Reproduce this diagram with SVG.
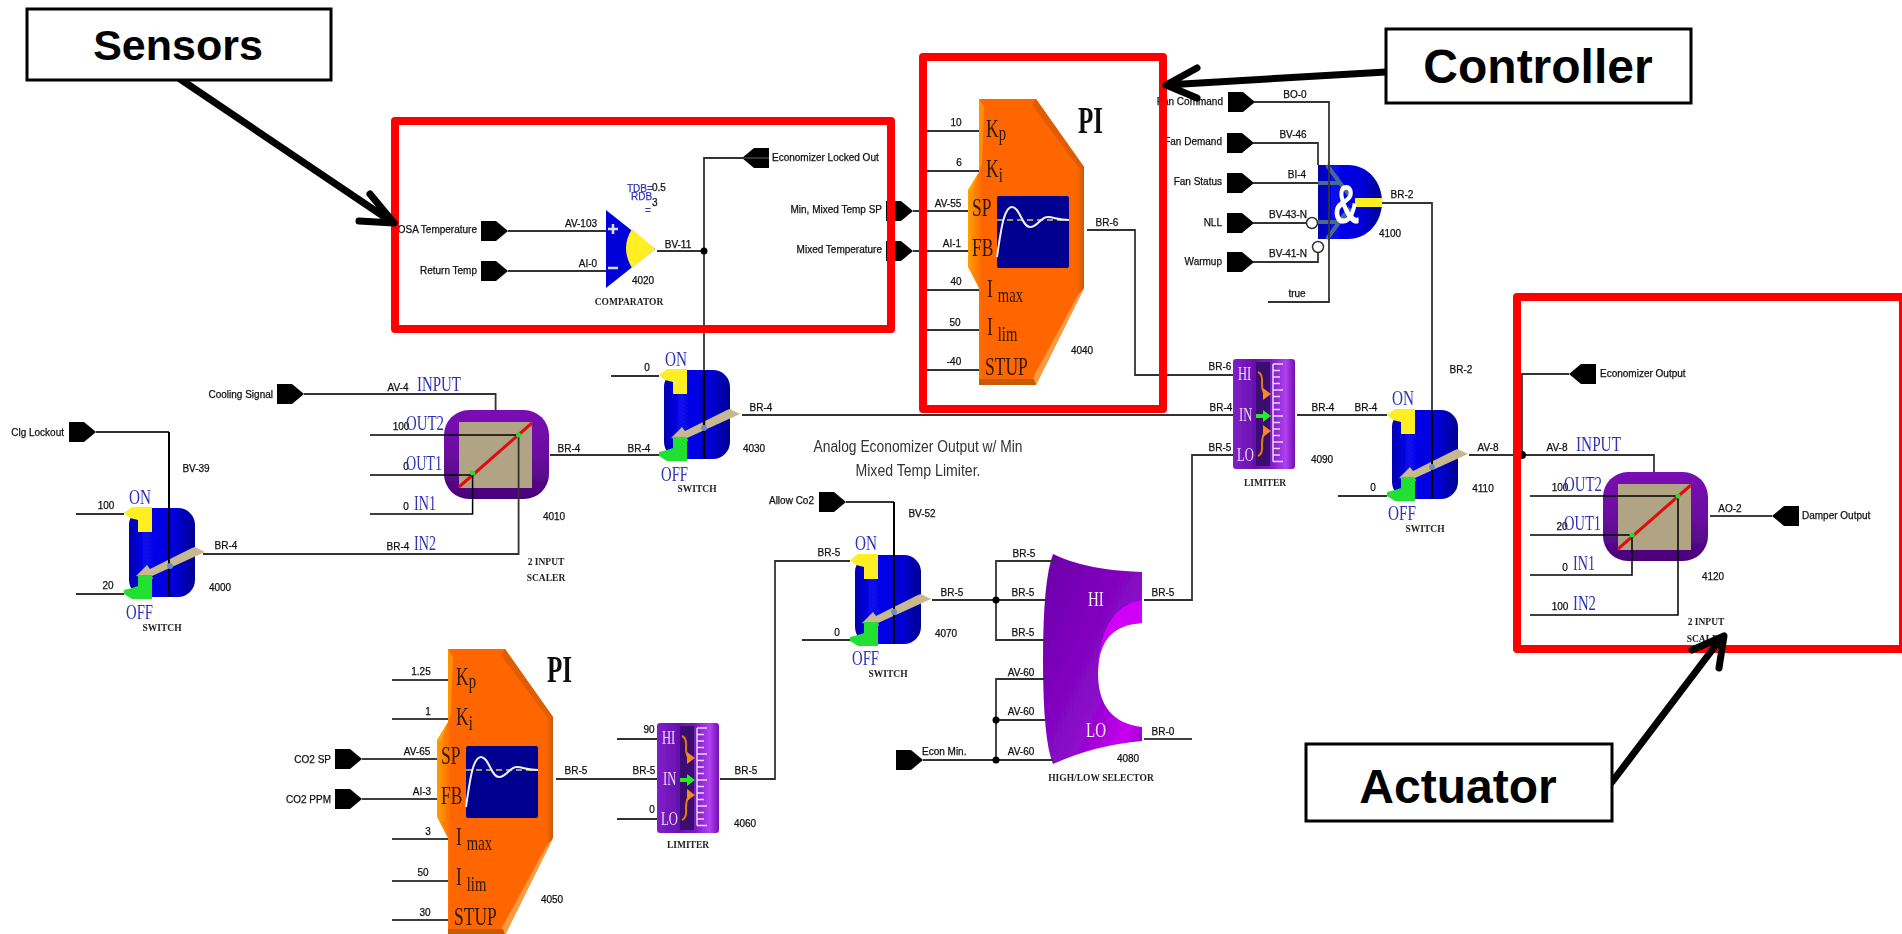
<svg xmlns="http://www.w3.org/2000/svg" xmlns:xlink="http://www.w3.org/1999/xlink" width="1902" height="934" viewBox="0 0 1902 934">
<style>
text{font-family:"Liberation Sans",Arial,sans-serif}
.t{font-size:10px;fill:#111;stroke:#111;stroke-width:.25;text-anchor:middle}
.e{font-size:10px;fill:#111;stroke:#111;stroke-width:.25;text-anchor:end}
.s{font-size:10px;fill:#111;stroke:#111;stroke-width:.25;text-anchor:start}
.c{font-family:"Liberation Serif","Times New Roman",serif;font-size:9.5px;font-weight:bold;fill:#222;text-anchor:middle}
.b{font-family:"Liberation Serif","Times New Roman",serif;font-size:22px;fill:#3030b8}
.p{font-family:"Liberation Serif","Times New Roman",serif;font-size:25px;fill:#2a1a00}
.sub{font-size:21px}
.h{font-family:"Liberation Serif","Times New Roman",serif;font-size:38px;font-weight:bold;fill:#111}
.w{font-family:"Liberation Serif","Times New Roman",serif;font-size:18px;fill:#e8dcf4}
.call{font-size:48px;font-weight:bold;fill:#000;text-anchor:middle}
.wire{fill:none;stroke:#333;stroke-width:1.8}
.blk{fill:none;stroke:#000;stroke-width:2.4}
.frame{fill:none;stroke:#f00;stroke-width:8;stroke-linejoin:round}
.box{fill:#fff;stroke:#000;stroke-width:3}
.arr{fill:none;stroke:#000;stroke-width:7;stroke-linecap:round;stroke-linejoin:round}
.dot{fill:#000}
.inv{fill:#fff;stroke:#333;stroke-width:1.5}
g[id^="node"],#connectors,#caption{filter:url(#soft)}
</style>
<defs>
<filter id="soft" x="-5%" y="-5%" width="110%" height="110%"><feGaussianBlur stdDeviation=".45"/></filter>
<linearGradient id="gb" x1="0" x2="1" y1="0" y2="0"><stop offset="0" stop-color="#0000b0"/><stop offset=".25" stop-color="#0808ee"/><stop offset=".7" stop-color="#0000d8"/><stop offset="1" stop-color="#000090"/></linearGradient>
<linearGradient id="gp" x1="0" x2="0" y1="0" y2="1"><stop offset="0" stop-color="#7a0cb4"/><stop offset=".5" stop-color="#6a10a0"/><stop offset="1" stop-color="#480078"/></linearGradient>
<linearGradient id="go" x1="0" x2="1" y1="0" y2="0"><stop offset="0" stop-color="#ffa000"/><stop offset=".12" stop-color="#ff6600"/><stop offset=".94" stop-color="#ff6600"/><stop offset="1" stop-color="#c85a00"/></linearGradient>
<linearGradient id="gl" x1="0" x2="1" y1="0" y2="0"><stop offset="0" stop-color="#8020c8"/><stop offset=".35" stop-color="#6810b0"/><stop offset=".6" stop-color="#7a18c0"/><stop offset=".85" stop-color="#b040f0"/><stop offset="1" stop-color="#7010b0"/></linearGradient>
<linearGradient id="gs" x1="0" x2="1" y1="0" y2="1"><stop offset="0" stop-color="#6a00a8"/><stop offset=".6" stop-color="#8a08c8"/><stop offset=".85" stop-color="#c800f0"/><stop offset="1" stop-color="#8000c0"/></linearGradient>
<polygon id="tagR" points="0,-10 15,-10 27,0 15,10 0,10" fill="#000"/>
<polygon id="tagL" points="0,0 12,-10 27,-10 27,10 12,10" fill="#000"/>
<g id="sw">
<rect x="0" y="0" width="66" height="89" rx="17" fill="url(#gb)"/>
<polygon points="-5,5 3,-1 23,-1 23,24 9,24 9,12 1,10" fill="#ffee22"/>
<polygon points="76,44 66,39 63,40 21,61 18,57 7,68 24,71 23,68 65,49" fill="#c8b890"/>
<polygon points="9,67 23,67 23,91 3,91 -5,86 -5,82 3,80 9,78" fill="#22e030"/>
</g>
<g id="sc">
<rect x="0" y="0" width="105" height="89" rx="25" fill="url(#gp)"/>
<rect x="15" y="12" width="73" height="66" fill="#b0a484"/>
<line x1="15" y1="77" x2="88" y2="13" stroke="#dd1010" stroke-width="3"/>
</g>
<g id="lim">
<rect x="0" y="0" width="62" height="110" rx="3" fill="url(#gl)"/>
<rect x="23" y="3" width="14" height="104" fill="#3a0a70"/>
<path d="M40 5V102.5M40 5h10M40 11.5h7M40 18h7M40 24.500h7M40 31h10M40 37.500h7M40 44h7M40 50.500h7M40 57h10M40 63.500h7M40 70h7M40 76.500h7M40 83h10M40 89.500h7M40 96h7M40 102.500h10" fill="none" stroke="#e8d8f4" stroke-width="1.500"/>
<path d="M25 13Q30 15 29 25Q29 34 33 35M25 97Q30 95 29 85Q29 76 33 72" fill="none" stroke="#e87a10" stroke-width="2"/>
<polygon points="30,29 38,35 30,41" fill="#f08a20"/>
<polygon points="30,66 38,72 30,78" fill="#f08a20"/>
<polygon points="23,55 30,55 30,51 38,57 30,63 30,59 23,59" fill="#22ee22"/>
</g>
<g id="pi">
<polygon points="11,0 68,0 116,68 116,189 68,286 11,286 11,189 0,168 0,91 11,73" fill="url(#go)"/>
<polygon points="11,0 16,8 14,65 4,92 0,91 11,73" fill="#ffb000" opacity=".55"/>
<polygon points="68,0 116,68 110,68 64,6" fill="#e05c00"/>
<polygon points="116,189 68,286 62,284 110,196" fill="#ff9a40"/>
<polygon points="11,280 66,280 68,286 11,286" fill="#c85a00"/>
<rect x="29" y="97" width="72" height="72" rx="2" fill="#000090"/>
<line x1="29" y1="121" x2="101" y2="121" stroke="#d8c850" stroke-width="1.500" stroke-dasharray="6 4"/>
<path d="M29 158C33 130 36 108 44 108C52 108 54 128 62 128C70 128 72 118 80 118C86 118 90 121 101 121" fill="none" stroke="#f0f0f8" stroke-width="2"/>
</g>
</defs>
<rect width="1902" height="934" fill="#fff"/>

<g id="node-4000"><use href="#sw" x="129" y="508"/>
<text class="b" x="129" y="504" textLength="22" lengthAdjust="spacingAndGlyphs">ON</text>
<text class="b" x="126" y="619" textLength="27" lengthAdjust="spacingAndGlyphs">OFF</text>
<text class="t" x="220" y="591">4000</text><text class="c" x="162" y="631">SWITCH</text></g>
<g id="node-clg-lockout"><use href="#tagR" x="69" y="432"/><text class="e" x="64" y="436">Clg Lockout</text></g>
<g id="node-cooling-signal"><use href="#tagR" x="277" y="394"/><text class="e" x="273" y="398">Cooling Signal</text></g>
<g id="node-4010"><use href="#sc" x="444" y="410"/>
<text class="b" x="417" y="391" textLength="44" lengthAdjust="spacingAndGlyphs">INPUT</text>
<text class="t" x="401" y="430">100</text><text class="b" x="406" y="430" textLength="38" lengthAdjust="spacingAndGlyphs">OUT2</text>
<text class="t" x="406" y="470">0</text><text class="b" x="406" y="470" textLength="36" lengthAdjust="spacingAndGlyphs">OUT1</text>
<text class="t" x="406" y="510">0</text><text class="b" x="414" y="510" textLength="22" lengthAdjust="spacingAndGlyphs">IN1</text>
<text class="b" x="414" y="550" textLength="22" lengthAdjust="spacingAndGlyphs">IN2</text>
<text class="t" x="554" y="520">4010</text><text class="c" x="546" y="565">2 INPUT</text><text class="c" x="546" y="581">SCALER</text></g>
<g id="node-4030"><use href="#sw" x="664" y="370"/>
<text class="b" x="665" y="366" textLength="22" lengthAdjust="spacingAndGlyphs">ON</text>
<text class="b" x="661" y="481" textLength="27" lengthAdjust="spacingAndGlyphs">OFF</text>
<text class="t" x="754" y="452">4030</text><text class="c" x="697" y="492">SWITCH</text></g>
<g id="node-4020">
<polygon points="606,210 655,249 606,288" fill="#0000d8"/>
<path d="M632,229L655,249L632,268Q620,248 632,229Z" fill="#ffee22"/>
<path d="M608,229h10M613,224v10" stroke="#d8e0f0" stroke-width="2.500" fill="none"/><path d="M608,268h10" stroke="#d8e0f0" stroke-width="2.500" fill="none"/>
<text class="s" x="627" y="192" style="fill:#3636b8;stroke:#3636b8">TDB=</text><text class="s" x="652" y="191">0.5</text>
<text class="s" x="631" y="200" style="fill:#3636b8;stroke:#3636b8">RDB</text><text class="s" x="652" y="206">3</text>
<text class="s" x="645" y="214" style="fill:#3636b8;stroke:#3636b8">=</text>
<text class="t" x="643" y="284">4020</text><text class="c" x="629" y="305">COMPARATOR</text></g>
<g id="node-osa"><use href="#tagR" x="481" y="231"/><text class="e" x="477" y="233">OSA Temperature</text></g>
<g id="node-return"><use href="#tagR" x="481" y="271"/><text class="e" x="477" y="274">Return Temp</text></g>
<g id="node-locked"><use href="#tagL" x="742" y="158"/><text class="s" x="772" y="161">Economizer Locked Out</text></g>
<g id="node-minsp"><use href="#tagR" x="886" y="211"/><text class="e" x="882" y="213">Min, Mixed Temp SP</text></g>
<g id="node-mixed"><use href="#tagR" x="886" y="251"/><text class="e" x="882" y="253">Mixed Temperature</text></g>
<g id="node-4040" transform="translate(968,99)"><use href="#pi"/>
<text class="p" transform="translate(18,38) scale(.7,1)">K<tspan class="sub" dy="3">p</tspan></text>
<text class="p" transform="translate(18,78) scale(.7,1)">K<tspan class="sub" dy="5">i</tspan></text>
<text class="p" transform="translate(4,117) scale(.7,1)">SP</text>
<text class="p" transform="translate(4,157) scale(.7,1)">FB</text>
<text class="p" transform="translate(19,198) scale(.7,1)">I<tspan class="sub" dx="7" dy="5">max</tspan></text>
<text class="p" transform="translate(19,236) scale(.7,1)">I<tspan class="sub" dx="7" dy="6">lim</tspan></text>
<text class="p" transform="translate(17,276) scale(.7,1)">STUP</text>
<text class="h" transform="translate(110,34) scale(.66,1)">PI</text>
<text class="t" x="114" y="255">4040</text></g>
<g id="node-4050" transform="translate(437,649)"><use href="#pi"/>
<text class="p" transform="translate(19,36) scale(.7,1)">K<tspan class="sub" dy="3">p</tspan></text>
<text class="p" transform="translate(19,76) scale(.7,1)">K<tspan class="sub" dy="5">i</tspan></text>
<text class="p" transform="translate(4,115) scale(.7,1)">SP</text>
<text class="p" transform="translate(4,155) scale(.7,1)">FB</text>
<text class="p" transform="translate(19,196) scale(.7,1)">I<tspan class="sub" dx="7" dy="5">max</tspan></text>
<text class="p" transform="translate(19,236) scale(.7,1)">I<tspan class="sub" dx="7" dy="6">lim</tspan></text>
<text class="p" transform="translate(17,276) scale(.7,1)">STUP</text>
<text class="h" transform="translate(110,33) scale(.66,1)">PI</text>
<text class="t" x="115" y="254">4050</text></g>
<g id="node-co2sp"><use href="#tagR" x="335" y="759"/><text class="e" x="331" y="763">CO2 SP</text></g>
<g id="node-co2ppm"><use href="#tagR" x="335" y="799"/><text class="e" x="331" y="803">CO2 PPM</text></g>
<g id="node-4060"><use href="#lim" x="657" y="723"/>
<text class="w" transform="translate(662,744) scale(.7,1)">HI</text><text class="w" transform="translate(663,785) scale(.7,1)">IN</text><text class="w" transform="translate(661,825) scale(.7,1)">LO</text>
<text class="t" x="745" y="827">4060</text><text class="c" x="688" y="848">LIMITER</text></g>
<g id="node-4090"><use href="#lim" x="1233" y="359"/>
<text class="w" transform="translate(1238,380) scale(.7,1)">HI</text><text class="w" transform="translate(1239,421) scale(.7,1)">IN</text><text class="w" transform="translate(1237,461) scale(.7,1)">LO</text>
<text class="t" x="1322" y="463">4090</text><text class="c" x="1265" y="486">LIMITER</text></g>
<g id="node-4070"><use href="#sw" x="855" y="555"/>
<text class="b" x="855" y="550" textLength="22" lengthAdjust="spacingAndGlyphs">ON</text>
<text class="b" x="852" y="665" textLength="27" lengthAdjust="spacingAndGlyphs">OFF</text>
<text class="t" x="946" y="637">4070</text><text class="c" x="888" y="677">SWITCH</text></g>
<g id="node-allow"><use href="#tagR" x="819" y="502"/><text class="e" x="814" y="504">Allow Co2</text></g>
<g id="node-4080"><path d="M1053 554Q1085 570 1142 572L1142 623Q1098 625 1098 673Q1098 722 1142 727L1142 741Q1095 745 1053 764Q1043 740 1043 660Q1043 580 1053 554Z" fill="url(#gs)"/>
<path d="M1142 600Q1105 605 1098 660L1098 673Q1098 625 1142 623Z" fill="#d000f8"/>
<text class="w" style="font-size:20px;fill:#f4ecf8" transform="translate(1088,606) scale(.75,1)">HI</text><text class="w" style="font-size:20px;fill:#f4ecf8" transform="translate(1086,737) scale(.75,1)">LO</text>
<text class="t" x="1128" y="762">4080</text><text class="c" x="1101" y="781">HIGH/LOW SELECTOR</text></g>
<g id="node-econ-min"><use href="#tagR" x="896" y="760"/><text class="s" x="922" y="755">Econ Min.</text></g>
<g id="node-4100">
<path d="M1318 165H1348C1368 165 1382 182 1382 202C1382 222 1368 239 1348 239H1318Z" fill="url(#gb)"/>
<rect x="1355" y="198" width="27" height="9" fill="#ffee22"/>
<path d="M1318 183H1340L1350 196M1327 165L1345 190M1318 222H1340L1350 208M1327 239L1345 214" fill="none" stroke="#4a6a90" stroke-width="4"/>
<text transform="translate(1333,223) scale(.66,1)" style="font-size:56px;font-weight:bold;fill:#fff">&amp;</text>
<text class="t" x="1390" y="237">4100</text></g>
<g id="node-fan-command"><use href="#tagR" x="1228" y="102"/><text class="e" x="1223" y="105">Fan Command</text></g>
<g id="node-fan-demand"><use href="#tagR" x="1227" y="143"/><text class="e" x="1222" y="145">Fan Demand</text></g>
<g id="node-fan-status"><use href="#tagR" x="1227" y="183"/><text class="e" x="1222" y="185">Fan Status</text></g>
<g id="node-nll"><use href="#tagR" x="1227" y="223"/><text class="e" x="1222" y="226">NLL</text></g>
<g id="node-warmup"><use href="#tagR" x="1227" y="262"/><text class="e" x="1222" y="265">Warmup</text></g>
<g id="node-4110"><use href="#sw" x="1392" y="410"/>
<text class="b" x="1392" y="405" textLength="22" lengthAdjust="spacingAndGlyphs">ON</text>
<text class="b" x="1388" y="520" textLength="28" lengthAdjust="spacingAndGlyphs">OFF</text>
<text class="t" x="1483" y="492">4110</text><text class="c" x="1425" y="532">SWITCH</text></g>
<g id="node-econ-out"><use href="#tagL" x="1569" y="374"/><text class="s" x="1600" y="377">Economizer Output</text></g>
<g id="node-4120"><use href="#sc" x="1603" y="472"/>
<text class="b" x="1576" y="451" textLength="45" lengthAdjust="spacingAndGlyphs">INPUT</text>
<text class="t" x="1560" y="491">100</text><text class="b" x="1564" y="491" textLength="38" lengthAdjust="spacingAndGlyphs">OUT2</text>
<text class="t" x="1562" y="530">20</text><text class="b" x="1564" y="530" textLength="37" lengthAdjust="spacingAndGlyphs">OUT1</text>
<text class="t" x="1565" y="571">0</text><text class="b" x="1573" y="570" textLength="22" lengthAdjust="spacingAndGlyphs">IN1</text>
<text class="t" x="1560" y="610">100</text><text class="b" x="1573" y="610" textLength="23" lengthAdjust="spacingAndGlyphs">IN2</text>
<text class="t" x="1713" y="580">4120</text><text class="c" x="1706" y="625">2 INPUT</text><text class="c" x="1706" y="642">SCALER</text></g>
<g id="node-damper"><use href="#tagL" x="1772" y="516"/><text class="s" x="1802" y="519">Damper Output</text></g>

<g id="connectors">
<path class="wire" d="M96 432H169"/><path class="blk" d="M169 432V597" style="stroke-width:2"/>
<path class="wire" d="M76 514H124M76 594H124M203 554H518.600V435"/>
<path class="wire" d="M304 394H495.600V410"/>
<path class="blk" style="stroke-width:1.500" d="M370 435H518.600M370 475H472.600V514H370"/>
<path class="wire" d="M550 455H659"/>
<circle cx="518.600" cy="435" r="2.500" fill="#22e030"/><circle cx="472.600" cy="473" r="2.500" fill="#22e030"/>
<circle cx="170" cy="566" r="3" fill="#6a8fc0"/>
<path class="wire" d="M508 231H606M508 271H606"/>
<path class="wire" d="M657 251H704M769 158H704V370M742 158H704"/>
<circle class="dot" cx="704" cy="251" r="3.500"/>
<path class="blk" d="M704 370V459"/>
<circle cx="704" cy="428" r="3" fill="#6a8fc0"/>
<path class="wire" d="M611 376H659M742 415H1233"/>
<path class="wire" d="M927 131H979M927 171H979M913 211H968M913 251H968M927 290H979M927 330H979M927 370H979"/>
<path class="wire" d="M1087 230H1135V375H1233"/>
<path class="wire" d="M1254 102H1329V302H1268M1253 143H1318V165M1253 183H1318M1253 223H1306M1253 262H1318V253"/>
<circle class="inv" cx="1312" cy="223" r="5.500"/><circle class="inv" cx="1318" cy="247" r="5.500"/>
<path class="wire" d="M1382 203H1432V410"/><path class="blk" d="M1432 410V499" style="stroke-width:2"/>
<path class="wire" d="M1297 415H1387M1338 496H1387M1469 455H1522"/>
<circle cx="1432" cy="467" r="3" fill="#6a8fc0"/>
<path class="wire" d="M1569 374H1522V455H1654V472"/>
<circle class="dot" cx="1522" cy="455" r="4"/>
<path class="blk" style="stroke-width:1.500" d="M1530 496H1678V615H1530M1530 535H1632V575H1530M1710 516H1772"/>
<circle cx="1678" cy="496" r="2.500" fill="#22e030"/><circle cx="1632" cy="535" r="2.500" fill="#22e030"/>
<path class="blk" style="stroke-width:1.500" d="M392 680H448M392 719H448M362 759H437M362 799H437M392 839H448M392 881H448M392 920H448"/>
<path class="wire" d="M556 779H657M617 739H657M617 819H657M720 779H775V561H850"/>
<path class="wire" d="M846 502H894"/><path class="blk" d="M894 502V644" style="stroke-width:2"/>
<circle cx="894" cy="612" r="3" fill="#6a8fc0"/>
<path class="wire" d="M802 640H850M932 600H1045M1055 561H996V640H1045M1045 679H996V760M996 720H1045M923 760H1053"/>
<circle class="dot" cx="996" cy="600" r="3.500"/><circle class="dot" cx="996" cy="720" r="3.500"/><circle class="dot" cx="996" cy="760" r="3.500"/>
<path class="wire" d="M1144 600H1192V455H1233"/><path class="blk" style="stroke-width:1.500" d="M1144 739H1192"/>
<text class="t" x="106" y="509">100</text><text class="t" x="108" y="589">20</text><text class="t" x="196" y="472">BV-39</text><text class="t" x="226" y="549">BR-4</text><text class="t" x="398" y="550">BR-4</text>
<text class="t" x="398" y="391">AV-4</text><text class="t" x="569" y="452">BR-4</text><text class="t" x="639" y="452">BR-4</text>
<text class="t" x="581" y="227">AV-103</text><text class="t" x="588" y="267">AI-0</text><text class="t" x="678" y="248">BV-11</text>
<text class="t" x="647" y="371">0</text><text class="t" x="761" y="411">BR-4</text><text class="t" x="1221" y="411">BR-4</text>
<text class="t" x="956" y="126">10</text><text class="t" x="959" y="166">6</text><text class="t" x="948" y="207">AV-55</text><text class="t" x="952" y="247">AI-1</text><text class="t" x="956" y="285">40</text><text class="t" x="955" y="326">50</text><text class="t" x="954" y="365">-40</text>
<text class="t" x="1107" y="226">BR-6</text><text class="t" x="1220" y="370">BR-6</text><text class="t" x="1220" y="451">BR-5</text>
<text class="t" x="1295" y="98">BO-0</text><text class="t" x="1293" y="138">BV-46</text><text class="t" x="1297" y="178">BI-4</text><text class="t" x="1288" y="218">BV-43-N</text><text class="t" x="1288" y="257">BV-41-N</text><text class="t" x="1297" y="297">true</text>
<text class="t" x="1402" y="198">BR-2</text><text class="t" x="1461" y="373">BR-2</text>
<text class="t" x="1323" y="411">BR-4</text><text class="t" x="1366" y="411">BR-4</text><text class="t" x="1373" y="491">0</text><text class="t" x="1488" y="451">AV-8</text><text class="t" x="1557" y="451">AV-8</text><text class="t" x="1730" y="512">AO-2</text>
<text class="t" x="421" y="675">1.25</text><text class="t" x="428" y="715">1</text><text class="t" x="417" y="755">AV-65</text><text class="t" x="422" y="795">AI-3</text><text class="t" x="428" y="835">3</text><text class="t" x="423" y="876">50</text><text class="t" x="425" y="916">30</text>
<text class="t" x="576" y="774">BR-5</text><text class="t" x="644" y="774">BR-5</text><text class="t" x="649" y="733">90</text><text class="t" x="652" y="813">0</text><text class="t" x="746" y="774">BR-5</text>
<text class="t" x="922" y="517">BV-52</text><text class="t" x="829" y="556">BR-5</text><text class="t" x="837" y="636">0</text><text class="t" x="952" y="596">BR-5</text>
<text class="t" x="1024" y="557">BR-5</text><text class="t" x="1023" y="596">BR-5</text><text class="t" x="1023" y="636">BR-5</text><text class="t" x="1021" y="676">AV-60</text><text class="t" x="1021" y="715">AV-60</text><text class="t" x="1021" y="755">AV-60</text>
<text class="t" x="1163" y="596">BR-5</text><text class="t" x="1163" y="735">BR-0</text>
<text class="t" x="730" y="333" style="fill:#888;stroke:none">BV-11</text>
</g>

<g id="caption"><text x="918" y="452" style="font-size:16px;fill:#333;text-anchor:middle" textLength="209" lengthAdjust="spacingAndGlyphs">Analog Economizer Output w/ Min</text>
<text x="918" y="476" style="font-size:16px;fill:#333;text-anchor:middle" textLength="125" lengthAdjust="spacingAndGlyphs">Mixed Temp Limiter.</text></g>

<g id="frames">
<rect class="frame" x="395" y="121" width="496" height="208"/>
<rect class="frame" x="923" y="57" width="240" height="352"/>
<rect class="frame" x="1517" y="297" width="386" height="352"/>
</g>

<g id="callouts">
<path class="arr" d="M180 79L392 222M370 194L394 223M359 221L394 223"/>
<path class="arr" d="M1386 72L1166 85M1197 68L1166 85L1197 98"/>
<path class="arr" d="M1612 782L1722 637M1692 650L1724 636L1719 668"/>
<g id="sensors"><rect class="box" x="27" y="9" width="304" height="71"/><text class="call" style="font-size:43px" x="178" y="60">Sensors</text></g>
<g id="controller"><rect class="box" x="1386" y="29" width="305" height="74"/><text class="call" x="1538" y="83">Controller</text></g>
<g id="actuator"><rect class="box" x="1306" y="744" width="306" height="77"/><text class="call" x="1458" y="803">Actuator</text></g>
</g>
</svg>
